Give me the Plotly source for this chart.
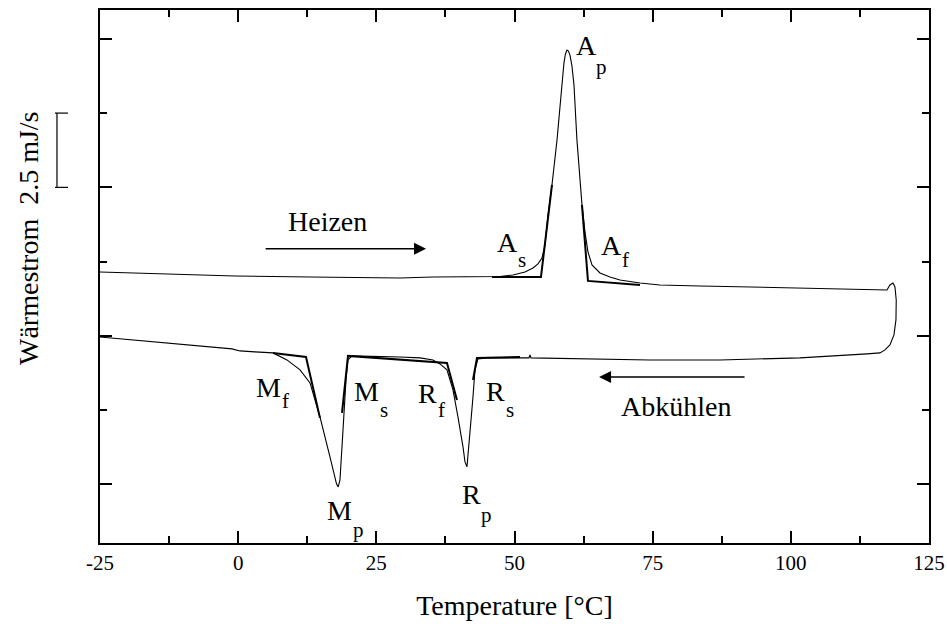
import plotly.graph_objects as go

# ---------------- data (temperature in °C, heat flow in mJ/s, arbitrary offset) ----------------
heat_T = [-25.0, -14.14, -0.57, 13.0, 29.28, 35.25, 43.75, 47.37, 49.72, 51.9, 53.34, 54.25, 54.97,
          55.52, 56.06, 56.78, 57.69, 58.59, 58.95, 59.22, 59.49, 59.76, 60.04, 60.40, 60.76, 61.30,
          62.21, 62.75, 63.29, 64.02, 65.47, 67.28, 69.09, 72.70, 76.32, 83.56, 98.03, 112.51,
          117.39, 117.93, 118.48, 118.84]
heat_Q = [2.153, 2.086, 2.019, 1.985, 1.952, 1.985, 1.985, 2.002, 2.052, 2.153, 2.288, 2.423, 2.624,
          3.06, 4.07, 5.08, 6.59, 8.55, 9.19, 9.49, 9.62, 9.59, 9.45, 9.08, 8.45, 6.59,
          4.41, 3.50, 2.83, 2.39, 2.12, 1.985, 1.884, 1.783, 1.716, 1.682, 1.615, 1.565,
          1.548, 1.716, 1.783, 1.649]

cool_T = [119.07, 119.02, 118.66, 117.93, 117.03, 116.13, 113.77, 101.65, 87.18, 74.51, 65.47, 58.23,
          52.98, 52.80, 52.62, 47.37, 45.02, 43.39, 42.85, 42.49, 41.76, 41.40, 41.04, 40.68, 39.77,
          38.87, 37.78, 36.52, 35.25, 32.90, 29.28, 23.85, 20.59, 19.87, 19.51, 18.97, 18.42, 18.10,
          17.79, 16.61, 14.80, 13.00, 11.19, 8.83, 6.30, 3.04, 0.33, -1.12, -6.91, -15.95, -25.0]
cool_Q = [1.211, 0.538, 0.034, -0.303, -0.471, -0.572, -0.606, -0.740, -0.808, -0.808, -0.774, -0.757,
          -0.740, -0.639, -0.740, -0.740, -0.740, -0.774, -1.144, -2.052, -3.735, -4.408, -4.240, -3.735, -2.725,
          -1.817, -1.144, -0.942, -0.808, -0.740, -0.707, -0.673, -0.673, -0.808, -1.480, -3.163, -4.845, -5.081,
          -4.980, -4.071, -2.725, -1.581, -1.144, -0.808, -0.572, -0.538, -0.505, -0.437, -0.336, -0.168, -0.034]

# onset tangent constructions (segments separated by None)
tan_T = [45.92, 54.79, 56.78, None,
         62.21, 63.29, 72.70, None,
         6.30, 12.27, 14.80, None,
         18.79, 19.87, 37.78, 39.59, None,
         42.49, 43.21, 50.99]
tan_Q = [1.985, 1.985, 5.08, None,
         4.41, 1.851, 1.716, None,
         -0.572, -0.707, -2.759, None,
         -2.591, -0.673, -0.908, -2.153, None,
         -1.480, -0.740, -0.707]

x_ticks = [-25, 0, 25, 50, 75, 100, 125]
x_ticklabels = ["-25", "0", "25", "50", "75", "100", "125"]

# point labels: (main letter, subscript, T, Q of main letter, T, Q of subscript)
point_labels = [
    ("A", "p", 63.1, 9.76, 65.8, 9.05),
    ("A", "s", 48.8, 3.16, 51.35, 2.56),
    ("A", "f", 67.6, 3.06, 70.0, 2.56),
    ("M", "f", 5.4, -1.72, 8.65, -2.19),
    ("M", "s", 23.3, -1.88, 26.4, -2.49),
    ("R", "f", 34.2, -1.95, 36.7, -2.49),
    ("R", "s", 46.65, -1.88, 49.2, -2.49),
    ("M", "p", 18.4, -5.89, 21.7, -6.53),
    ("R", "p", 42.3, -5.35, 45.0, -6.02),
]

FONT = "Liberation Serif"

fig = go.Figure()
fig.add_trace(go.Scatter(x=heat_T + cool_T, y=heat_Q + cool_Q, mode="lines",
                         line=dict(color="black", width=1.1), hoverinfo="skip", showlegend=False))
fig.add_trace(go.Scatter(x=tan_T, y=tan_Q, mode="lines", connectgaps=False,
                         line=dict(color="black", width=2), hoverinfo="skip", showlegend=False))

annotations = []
for main, sub, tx, qy, sx, sy in point_labels:
    annotations.append(dict(x=tx, y=qy, xref="x", yref="y", text=main, showarrow=False,
                            font=dict(family=FONT, size=28, color="black")))
    annotations.append(dict(x=sx, y=sy, xref="x", yref="y", text=sub, showarrow=False,
                            font=dict(family=FONT, size=21, color="black")))

# direction labels and arrows
annotations.append(dict(x=16.25, y=3.84, xref="x", yref="y", text="Heizen", showarrow=False,
                        font=dict(family=FONT, size=28, color="black")))
annotations.append(dict(x=79.2, y=-2.36, xref="x", yref="y", text="Abkühlen", showarrow=False,
                        font=dict(family=FONT, size=28, color="black")))
annotations.append(dict(x=34.0, y=2.93, ax=4.7, ay=2.93, xref="x", yref="y", axref="x", ayref="y",
                        text="", showarrow=True, arrowhead=2, arrowsize=1.6, arrowwidth=1.5,
                        arrowcolor="black"))
annotations.append(dict(x=65.3, y=-1.38, ax=91.9, ay=-1.38, xref="x", yref="y", axref="x", ayref="y",
                        text="", showarrow=True, arrowhead=2, arrowsize=1.6, arrowwidth=1.5,
                        arrowcolor="black"))

# y-axis title with scale
annotations.append(dict(x=-0.087, y=0.572, xref="paper", yref="paper", text="Wärmestrom  2.5 mJ/s",
                        textangle=-90, showarrow=False, xanchor="center", yanchor="middle",
                        font=dict(family=FONT, size=28, color="black")))

shapes = [
    dict(type="line", xref="paper", yref="y", x0=-0.0519, x1=-0.0519, y0=5.0, y1=7.5,
         line=dict(color="black", width=1.2)),
    dict(type="line", xref="paper", yref="y", x0=-0.0543, x1=-0.0386, y0=7.5, y1=7.5,
         line=dict(color="black", width=1.2)),
    dict(type="line", xref="paper", yref="y", x0=-0.0543, x1=-0.0386, y0=5.0, y1=5.0,
         line=dict(color="black", width=1.2)),
]

fig.update_layout(
    width=947, height=624,
    margin=dict(l=100, r=18, t=10, b=81, autoexpand=False),
    paper_bgcolor="white", plot_bgcolor="white",
    font=dict(family=FONT, color="black"),
    annotations=annotations, shapes=shapes,
    showlegend=False,
)
fig.update_xaxes(
    automargin=False,
    range=[-25, 125], tickvals=x_ticks, ticktext=x_ticklabels,
    ticks="inside", ticklen=12, tickwidth=2, tickcolor="black",
    minor=dict(tickvals=[-12.5, 12.5, 37.5, 62.5, 87.5, 112.5], ticks="inside", ticklen=7,
               tickwidth=2, tickcolor="black"),
    showline=True, linewidth=2, linecolor="black", mirror="ticks",
    showgrid=False, zeroline=False,
    tickfont=dict(family=FONT, size=21, color="black"),
    title=dict(text="Temperature [°C]", font=dict(family=FONT, size=28, color="black"), standoff=21),
)
fig.update_yaxes(
    automargin=False,
    range=[-6.97, 10.97], tickvals=[-5, 0, 5, 10], showticklabels=False,
    ticks="inside", ticklen=12, tickwidth=2, tickcolor="black",
    minor=dict(tickvals=[-2.5, 2.5, 7.5], ticks="inside", ticklen=7, tickwidth=2, tickcolor="black"),
    showline=True, linewidth=2, linecolor="black", mirror="ticks",
    showgrid=False, zeroline=False,
)

fig.write_html("out.html", config={"displayModeBar": False},
               post_script="document.body.style.margin='0';document.body.style.overflow='hidden';")
